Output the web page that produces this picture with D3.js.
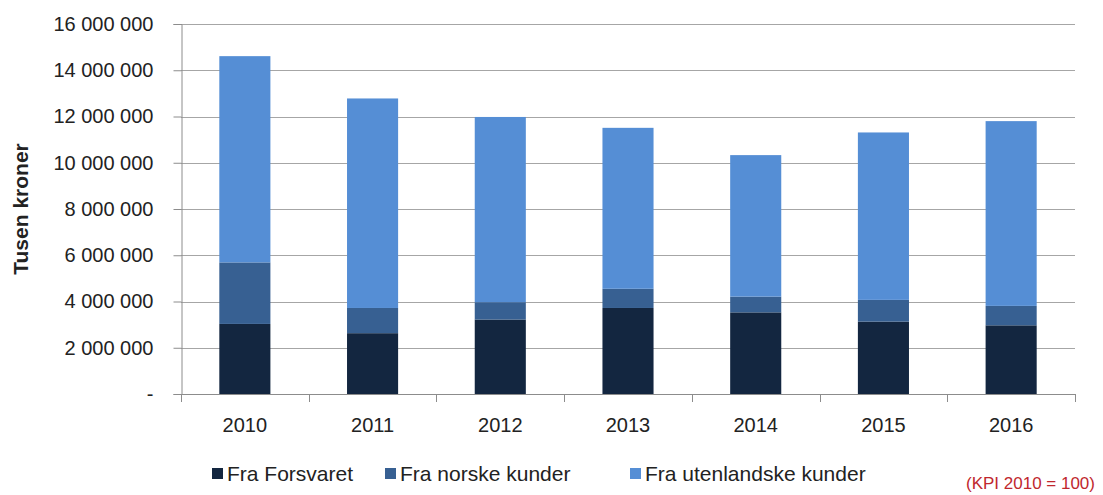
<!DOCTYPE html>
<html>
<head>
<meta charset="utf-8">
<script src="https://cdn.jsdelivr.net/npm/d3@7"></script>
<style>
  body { margin: 0; background: #fff; }
  svg text { font-family: "Liberation Sans", Arial, sans-serif; fill: #222; }
</style>
</head>
<body>
<div id="chart"></div>
<script>
const years = ["2010", "2011", "2012", "2013", "2014", "2015", "2016"];
const forsvaret = [3030000, 2630000, 3220000, 3720000, 3530000, 3130000, 2970000];
const norske = [2660000, 1090000, 750000, 830000, 680000, 940000, 840000];
const utenlandske = [8920000, 9060000, 8010000, 6960000, 6120000, 7240000, 7990000];
const seriesNames = ["Fra Forsvaret", "Fra norske kunder", "Fra utenlandske kunder"];
const yTicks = [0, 2000000, 4000000, 6000000, 8000000, 10000000, 12000000, 14000000, 16000000];
const colors = ["#132640", "#376092", "#558ed5"];

const width = 1103, height = 495;
const margin = { top: 24, right: 28, bottom: 101, left: 181 };

const svg = d3.select("#chart")
    .append("svg")
    .attr("width", width)
    .attr("height", height);

const x = d3.scaleBand()
    .domain(years)
    .range([margin.left, width - margin.right])
    .paddingInner(0.6)
    .paddingOuter(0.3);

const y = d3.scaleLinear()
    .domain([0, 16000000])
    .range([height - margin.bottom, margin.top]);

const fmt = d => d === 0 ? "-" : d3.format(",")(d).replace(/,/g, " ");

// gridlines
svg.append("g")
    .selectAll("line")
    .data(yTicks.slice(1))
    .enter()
    .append("line")
    .attr("x1", margin.left)
    .attr("x2", width - margin.right)
    .attr("y1", d => Math.round(y(d)) + 0.5)
    .attr("y2", d => Math.round(y(d)) + 0.5)
    .attr("stroke", "#a6a6a6")
    .attr("stroke-width", 1);

// stacked bars
const rows = years.map((yr, i) => ({ year: yr, f: forsvaret[i], n: norske[i], u: utenlandske[i] }));
const stack = d3.stack().keys(["f", "n", "u"])(rows);

svg.append("g")
    .selectAll("g")
    .data(stack)
    .enter()
    .append("g")
    .attr("fill", (d, i) => colors[i])
    .selectAll("rect")
    .data(d => d)
    .enter()
    .append("rect")
    .attr("x", d => x(d.data.year))
    .attr("y", d => y(d[1]))
    .attr("width", x.bandwidth())
    .attr("height", d => y(d[0]) - y(d[1]));

// y axis
const yAxis = svg.append("g")
    .attr("transform", `translate(${margin.left + 0.5},0)`)
    .call(d3.axisLeft(y).tickValues(yTicks).tickSize(8).tickPadding(20).tickFormat(fmt));
yAxis.select(".domain").attr("stroke", "#8c8c8c");
yAxis.selectAll(".tick line").attr("stroke", "#8c8c8c");
yAxis.selectAll("text").attr("font-size", 20).attr("fill", "#222");

// x axis
const bounds = d3.range(years.length + 1).map(i => margin.left + i * (width - margin.left - margin.right) / years.length);
const xg = svg.append("g");
xg.append("line")
    .attr("x1", margin.left)
    .attr("x2", width - margin.right)
    .attr("y1", y(0) + 0.5)
    .attr("y2", y(0) + 0.5)
    .attr("stroke", "#8c8c8c");
xg.selectAll(".tk")
    .data(bounds)
    .enter()
    .append("line")
    .attr("x1", d => Math.round(d) + 0.5)
    .attr("x2", d => Math.round(d) + 0.5)
    .attr("y1", y(0))
    .attr("y2", y(0) + 8)
    .attr("stroke", "#8c8c8c");
xg.selectAll("text")
    .data(years)
    .enter()
    .append("text")
    .attr("x", d => x(d) + x.bandwidth() / 2)
    .attr("y", y(0) + 38)
    .attr("text-anchor", "middle")
    .attr("font-size", 20)
    .text(d => d);

// y title
svg.append("text")
    .attr("transform", `translate(28,${(margin.top + y(0)) / 2}) rotate(-90)`)
    .attr("text-anchor", "middle")
    .attr("font-size", 21)
    .attr("font-weight", "bold")
    .attr("fill", "#000")
    .text("Tusen kroner");

// legend
const legendX = [212, 385, 630];
const legend = svg.append("g")
    .selectAll("g")
    .data(seriesNames)
    .enter()
    .append("g")
    .attr("transform", (d, i) => `translate(${legendX[i]},474)`);
legend.append("rect")
    .attr("x", 0)
    .attr("y", -6)
    .attr("width", 11)
    .attr("height", 11)
    .attr("fill", (d, i) => colors[i]);
legend.append("text")
    .attr("x", 15)
    .attr("y", 7)
    .attr("font-size", 21)
    .text(d => d);

svg.append("text")
    .attr("x", 1095)
    .attr("y", 489)
    .attr("text-anchor", "end")
    .attr("font-size", 17)
    .style("fill", "#c0272d")
    .text("(KPI 2010 = 100)");
</script>
</body>
</html>
